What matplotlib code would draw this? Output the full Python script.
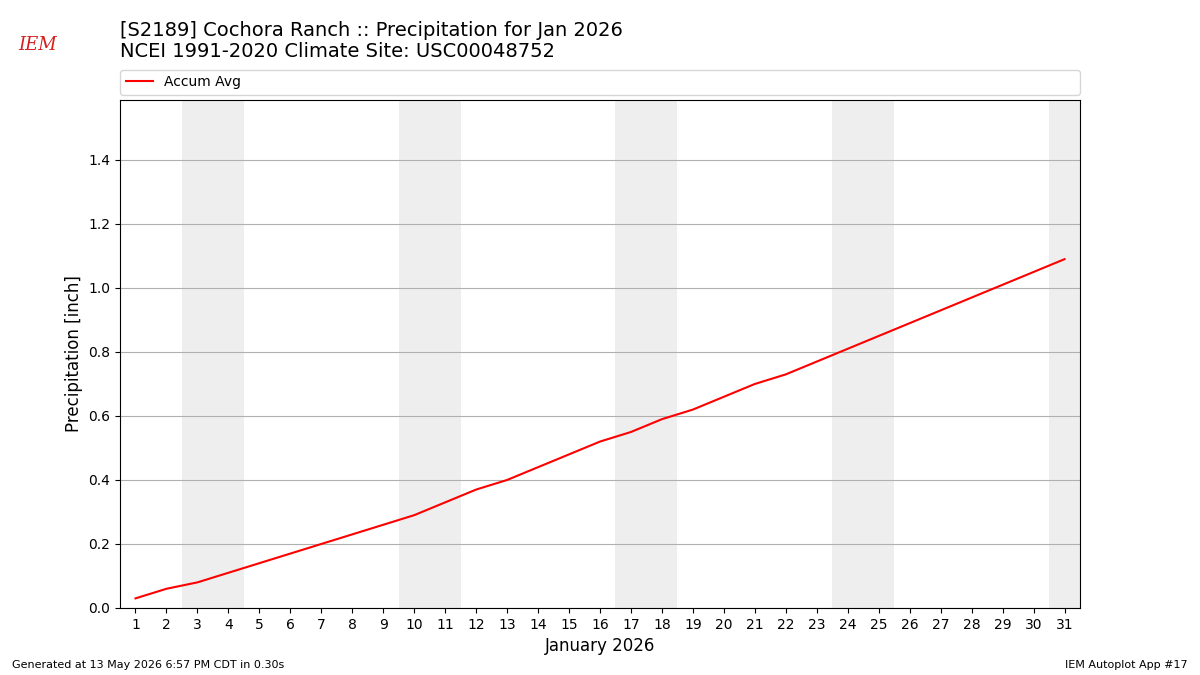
import numpy as np
import matplotlib
matplotlib.use("Agg")
import matplotlib.pyplot as plt

days = np.arange(1, 32)
accum_avg = [0.03, 0.06, 0.08, 0.11, 0.14, 0.17, 0.20, 0.23, 0.26, 0.29,
             0.33, 0.37, 0.40, 0.44, 0.48, 0.52, 0.55, 0.59, 0.62, 0.66,
             0.70, 0.73, 0.77, 0.81, 0.85, 0.89, 0.93, 0.97, 1.01, 1.05, 1.09]
weekends = [3, 4, 10, 11, 17, 18, 24, 25, 31]

fig = plt.figure(figsize=(12, 6.75), dpi=100)
ax = fig.add_axes([0.1, 0.0993, 0.8, 0.7526])

for d in weekends:
    ax.axvspan(d - 0.5, d + 0.5, color="#eeeeee", lw=0, zorder=0)

ax.plot(days, accum_avg, color="r", label="Accum Avg", zorder=3)

ax.set_xlim(0.5, 31.5)
ax.set_ylim(0, 1.5875)
ax.set_xticks(days)
ax.set_yticks(np.arange(0, 1.41, 0.2))
ax.grid(axis="y", color="#b0b0b0", lw=0.8)
ax.set_axisbelow(True)
ax.set_xlabel("January 2026", fontsize=12)
ax.set_ylabel("Precipitation [inch]", fontsize=12)

ax.legend(loc="lower left", bbox_to_anchor=(0, 1.01, 1, 0.05), mode="expand",
          ncol=3, fontsize=10, borderaxespad=0)

fig.text(0.1, 0.91, "[S2189] Cochora Ranch :: Precipitation for Jan 2026\n"
         "NCEI 1991-2020 Climate Site: USC00048752",
         fontsize=14, va="bottom", ha="left", linespacing=1.1)

fig.text(0.01, 0.01, "Generated at 13 May 2026 6:57 PM CDT in 0.30s", fontsize=8)
fig.text(0.99, 0.01, "IEM Autoplot App #17", fontsize=8, ha="right")

# simple stand-in for the IEM logo
fig.text(0.031, 0.933, "IEM", fontsize=13, color="#d42020", family="serif",
         style="italic", ha="center", va="center")

fig.savefig("out.png", dpi=100)
